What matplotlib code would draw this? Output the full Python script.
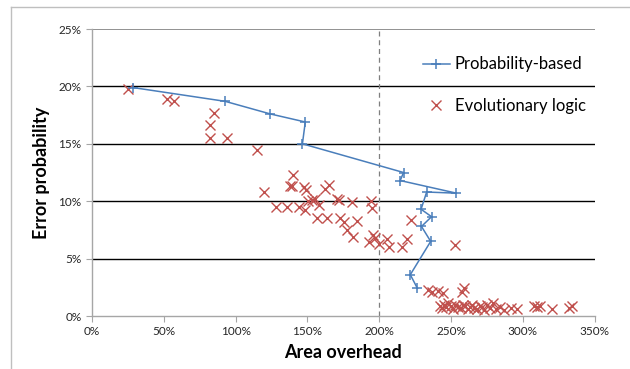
import matplotlib.pyplot as plt
from matplotlib.lines import Line2D
from matplotlib.ticker import FuncFormatter, MultipleLocator

# -----------------------------
# Data (area overhead %, error probability %)
# -----------------------------
prob_x = [28.5, 92.7, 124.2, 148.5, 146.5, 216.9, 214.6, 253.7, 233.0,
          229.1, 236.4, 229.4, 235.8, 221.6, 226.6]
prob_y = [19.9, 18.7, 17.6, 16.9, 15.0, 12.5, 11.8, 10.7, 10.8,
          9.3, 8.65, 7.8, 6.5, 3.6, 2.4]

evo_x = [25.1, 52.5, 57.2, 85.1, 82.1, 82.1, 94.1, 115.0, 140.1, 119.7,
         138.2, 139.3, 147.9, 149.3, 161.9, 164.7, 128.4, 135.9, 144.3, 148.5,
         150.7, 153.5, 155.5, 158.2, 156.8, 163.8, 170.8, 171.8, 181.1, 194.5,
         195.1, 173.0, 175.8, 177.8, 184.8, 182.0, 193.1, 195.9, 197.3, 200.1,
         205.7, 206.5, 215.5, 219.1, 221.9, 252.6,
         233.6, 236.4, 240.6, 244.2, 257.3, 258.7,
         242.0, 243.5, 245.0, 246.5, 248.0, 250.0, 251.5, 253.0, 255.0, 257.0,
         258.5, 260.0, 261.5, 263.0, 264.5, 266.0, 268.0, 270.0, 271.5, 273.0,
         275.0, 277.0, 279.0, 281.0, 284.0, 287.0, 292.0, 296.0, 308.0, 310.0,
         312.0, 320.0, 332.0, 334.5]
evo_y = [19.8, 18.9, 18.7, 17.7, 16.6, 15.5, 15.5, 14.5, 12.3, 10.8,
         11.3, 11.3, 11.2, 11.0, 11.1, 11.4, 9.5, 9.5, 9.5, 9.2,
         10.0, 10.1, 10.2, 9.7, 8.5, 8.5, 10.2, 10.1, 9.9, 10.0,
         9.4, 8.5, 8.2, 7.5, 8.3, 6.9, 6.45, 7.05, 6.8, 6.3,
         6.7, 6.0, 6.0, 6.7, 8.4, 6.2,
         2.3, 2.1, 2.2, 2.0, 2.1, 2.4,
         0.9, 0.7, 1.0, 0.8, 1.1, 0.9, 0.6, 1.0, 0.8, 0.7,
         1.0, 0.9, 0.6, 0.8, 1.0, 0.7, 0.6, 0.9, 0.8, 0.5,
         1.0, 0.7, 1.1, 0.6, 0.8, 0.5, 0.7, 0.6, 0.9, 0.8,
         0.9, 0.6, 0.7, 0.9]

BLUE = "#4a7ebb"
RED = "#c0504d"
FONT = "Lato"

fig = plt.figure(figsize=(6.3, 3.69), dpi=100)
ax = fig.add_axes([0.146, 0.1436, 0.798, 0.7778])

# outer chart border (top and left only visible)
fig.add_artist(Line2D([11 / 630, 1.0], [1 - 7 / 369, 1 - 7 / 369],
                      transform=fig.transFigure, color="#bfbfbf", lw=1))
fig.add_artist(Line2D([11 / 630, 11 / 630], [0.0, 1 - 7 / 369],
                      transform=fig.transFigure, color="#bfbfbf", lw=1))

ax.set_xlim(0, 350)
ax.set_ylim(0, 25)
ax.xaxis.set_major_locator(MultipleLocator(50))
ax.yaxis.set_major_locator(MultipleLocator(5))
ax.xaxis.set_major_formatter(FuncFormatter(lambda v, p: f"{v:.0f}%"))
ax.yaxis.set_major_formatter(FuncFormatter(lambda v, p: f"{v:.0f}%"))

for y in [5, 10, 15, 20]:
    ax.axhline(y, color="black", lw=1, zorder=1)
ax.axhline(25, color="#7f7f7f", lw=1.2, zorder=1)
ax.axvline(200, color="#7f7f7f", lw=0.9, ls=(0, (4, 3)), zorder=1)

for side in ["top", "right"]:
    ax.spines[side].set_visible(False)
for side in ["left", "bottom"]:
    ax.spines[side].set_color("#a6a6a6")
    ax.spines[side].set_linewidth(1)

ax.tick_params(axis="both", direction="out", length=4, color="#a6a6a6",
               labelsize=8.5, labelcolor="#262626")
for lbl in ax.get_xticklabels() + ax.get_yticklabels():
    lbl.set_family(FONT)

ax.plot(prob_x, prob_y, color=BLUE, lw=1.1, marker="+", markersize=6.5,
        markeredgewidth=1.1, label="Probability-based", zorder=3)
ax.plot(evo_x, evo_y, ls="none", color=RED, marker="x", markersize=6.5,
        markeredgewidth=1.0, label="Evolutionary logic", zorder=2)

leg = ax.legend(loc="upper right", bbox_to_anchor=(1.012, 0.957), frameon=False,
                handlelength=1.6, handletextpad=0.3, labelspacing=1.55,
                prop={"family": FONT, "size": 12})

ax.set_xlabel("Area overhead", fontsize=13, fontweight="bold",
              family=FONT, labelpad=5)
ax.set_ylabel("Error probability", fontsize=13, fontweight="bold",
              family=FONT, labelpad=6)

fig.savefig("out.png", dpi=100)
